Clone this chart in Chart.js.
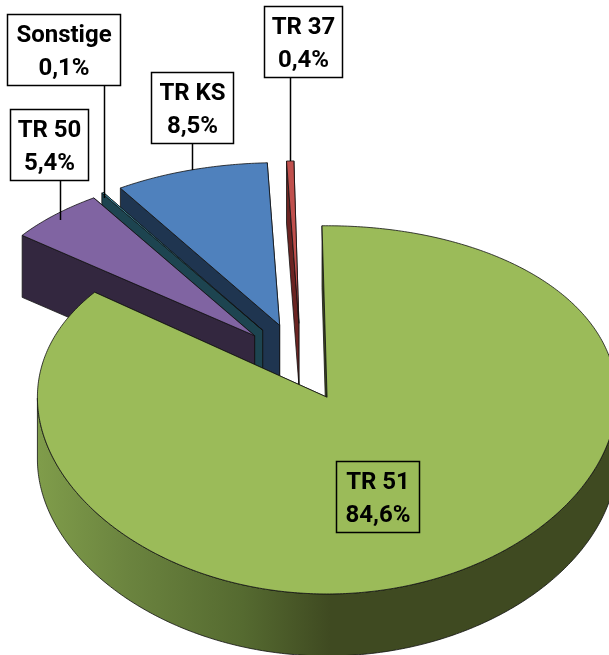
<!DOCTYPE html>
<html>
<head>
<meta charset="utf-8">
<title>TR Anteile</title>
<script src="https://cdn.jsdelivr.net/npm/chart.js@4"></script>
<style>
  html, body { margin: 0; padding: 0; background: #fff; overflow: hidden; }
  canvas { display: block; }
</style>
</head>
<body>
<canvas id="pie" width="609" height="655"></canvas>
<script>
// data, order as the slices run clockwise from the top
const categories = ["TR 51", "TR 50", "Sonstige", "TR KS", "TR 37"];
const values = [84.6, 5.4, 0.1, 8.5, 0.4];
const valueLabels = ["84,6%", "5,4%", "0,1%", "8,5%", "0,4%"];

// styles
const faceColors = ["#9bbb59", "#8064a2", "#4bacc6", "#4f81bd", "#c0504d"];
const sideColors = ["#3f4a21", "#33273f", "#1d4450", "#1f3550", "#6b2422"];
const explode = [56, 66, 68, 68, 68];
const drawOrder = [4, 3, 2, 1, 0];

// fake 3D view
const tilt = 0.63;
const wide = 1.02;
const depth = 62;
const viewDist = 4200;

// label boxes: x, y, w, h, and where the leader line stops
const labelBoxes = [
  { x: 336.5, y: 461.5, w: 83, h: 71, fill: false },
  { x: 10.5, y: 109.5, w: 78, h: 71, fill: true, leaderX: 60.5, leaderEnd: 220 },
  { x: 7.5, y: 14.5, w: 113, h: 71, fill: true, leaderX: 104.5, leaderEnd: 198 },
  { x: 151.5, y: 72.5, w: 82, h: 71, fill: true, leaderX: 192.5, leaderEnd: 170 },
  { x: 264.5, y: 6.5, w: 78, h: 71, fill: true, leaderX: 290.5, leaderEnd: 161 }
];

function project(arc, px, py, z) {
  const s = 1 / (1 - py / viewDist);
  return [arc.x + px * wide, arc.y + py * tilt * s + z];
}

function tracePoly(ctx, pts) {
  ctx.beginPath();
  pts.forEach((p, i) => (i ? ctx.lineTo(p[0], p[1]) : ctx.moveTo(p[0], p[1])));
  ctx.closePath();
}

function paint(ctx, pts, fill) {
  tracePoly(ctx, pts);
  ctx.fillStyle = fill;
  ctx.fill();
  ctx.stroke();
}

function drawSlice(chart, ctx, arc, i) {
  const mid = (arc.startAngle + arc.endAngle) / 2;
  const ox = Math.cos(mid) * explode[i];
  const oy = Math.sin(mid) * explode[i];
  const r = arc.outerRadius;

  const rim = [];
  const front = [];
  const steps = Math.max(2, Math.ceil((arc.endAngle - arc.startAngle) * 90));
  for (let n = 0; n <= steps; n++) {
    const a = arc.startAngle + (arc.endAngle - arc.startAngle) * n / steps;
    const p = [ox + Math.cos(a) * r, oy + Math.sin(a) * r];
    rim.push(p);
    if (Math.sin(a) >= 0) front.push(p);
  }
  const first = rim[0];
  const last = rim[rim.length - 1];
  const at = (p, z) => project(arc, p[0], p[1], z);
  const apex = [ox, oy];

  let sideFill = sideColors[i];
  if (i === 0) {
    const grad = ctx.createLinearGradient(40, 0, 330, 0);
    grad.addColorStop(0, "#7f9c4a");
    grad.addColorStop(0.3, "#6b843f");
    grad.addColorStop(0.7, "#556a30");
    grad.addColorStop(1, sideColors[0]);
    sideFill = grad;
  }

  ctx.strokeStyle = "#111";
  ctx.lineWidth = 0.8;
  ctx.lineJoin = "round";

  // walls first, the face goes over them
  paint(ctx, [at(apex, 0), at(last, 0), at(last, depth), at(apex, depth)], sideColors[i]);
  paint(ctx, [at(apex, 0), at(first, 0), at(first, depth), at(apex, depth)], sideColors[i]);
  if (front.length > 1) {
    const wall = front.map(p => at(p, 0)).concat(front.slice().reverse().map(p => at(p, depth)));
    paint(ctx, wall, sideFill);
  }

  const face = [at(apex, 0)].concat(rim.map(p => at(p, 0)));
  paint(ctx, face, arc.options.backgroundColor);
}

const pie3d = {
  id: "pie3d",
  beforeDatasetsDraw(chart) {
    const ctx = chart.ctx;
    const arcs = chart.getDatasetMeta(0).data;
    ctx.save();
    drawOrder.forEach(i => drawSlice(chart, ctx, arcs[i], i));
    ctx.restore();
    return false;
  },
  afterDraw(chart) {
    const ctx = chart.ctx;
    ctx.save();
    ctx.strokeStyle = "#000";
    ctx.lineWidth = 1.5;
    ctx.textAlign = "center";
    ctx.textBaseline = "middle";
    ctx.font = "bold 24px Roboto";
    categories.forEach((name, i) => {
      const b = labelBoxes[i];
      if (b.leaderX) {
        ctx.beginPath();
        ctx.moveTo(b.leaderX, b.y + b.h);
        ctx.lineTo(b.leaderX, b.leaderEnd);
        ctx.stroke();
      }
      if (b.fill) {
        ctx.fillStyle = "#fff";
        ctx.fillRect(b.x, b.y, b.w, b.h);
      }
      ctx.strokeRect(b.x, b.y, b.w, b.h);
      ctx.fillStyle = "#000";
      ctx.fillText(name, b.x + b.w / 2, b.y + 21.5);
      ctx.fillText(valueLabels[i], b.x + b.w / 2, b.y + 54);
    });
    ctx.restore();
  }
};

new Chart(document.getElementById("pie"), {
  type: "pie",
  plugins: [pie3d],
  data: {
    labels: categories,
    datasets: [{
      data: values,
      backgroundColor: faceColors,
      borderWidth: 0
    }]
  },
  options: {
    responsive: false,
    animation: false,
    rotation: -1,
    radius: 284,
    layout: { padding: { left: 0, right: 7, top: 76, bottom: 0 } },
    plugins: {
      legend: { display: false },
      tooltip: { enabled: false }
    }
  }
});
</script>
</body>
</html>
